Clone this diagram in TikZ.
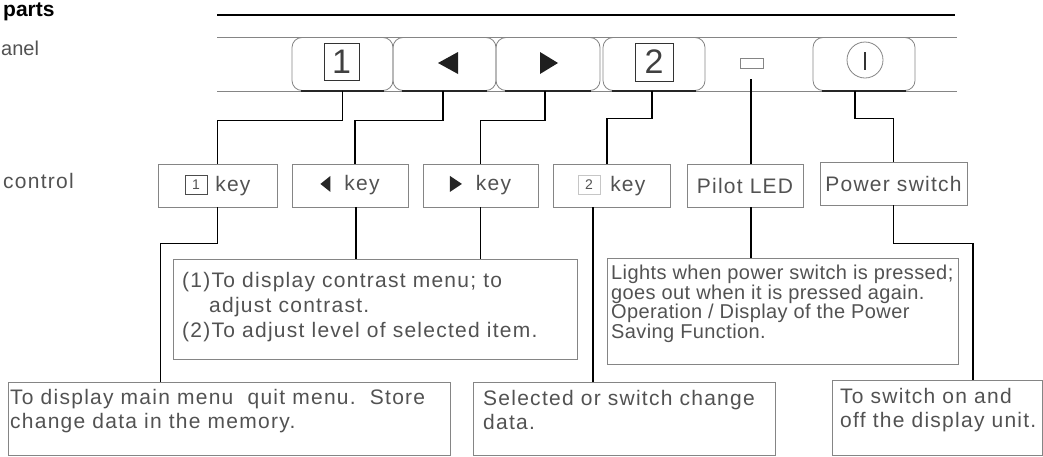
\documentclass[tikz,border=0pt]{standalone}
\usepackage{fontspec}
\setmainfont{Liberation Sans}
\newfontfamily\lblfont{Liberation Sans}[LetterSpace=6]
\newfontfamily\ledfont{Liberation Sans}[LetterSpace=2]
\usetikzlibrary{calc}
\definecolor{ink}{gray}{0.32}
\definecolor{edge}{gray}{0.52}
\newcommand\KeySmallBox[2]{\tikz[baseline=-7pt]\node[draw=#2,line width=0.7pt,minimum width=22pt,minimum height=19pt,inner sep=0pt,font=\fontsize{14}{14}\selectfont]{#1};}
\newcommand\KeyLeftTri{\tikz[baseline=-7pt]\fill[black!85] (0pt,0pt) -- (10pt,8pt) -- (10pt,-8pt) -- cycle;}
\newcommand\KeyRightTri{\tikz[baseline=-7pt]\fill[black!85] (0pt,8pt) -- (0pt,-8pt) -- (12pt,0pt) -- cycle;}
\begin{document}
\begin{tikzpicture}[x=1pt,y=-1pt,
  conn/.style={draw=black,line width=1.8pt},
  btn/.style={draw=edge,line width=0.8pt,rounded corners=10pt,minimum height=53pt,inner sep=0pt},
  btnbase/.style={line width=1.4pt,draw=black!85},
  digitbox/.style={draw=black!80,line width=0.8pt,inner sep=0pt,text=black!75,font=\fontsize{34}{34}\selectfont},
  keybox/.style={draw=edge,line width=0.8pt,minimum height=43pt,inner sep=0pt,text=ink,font=\lblfont\fontsize{21}{25}\selectfont},
  descbox/.style={draw=edge,line width=0.8pt,anchor=north west,inner sep=0pt},
  desctext/.style={anchor=north west,inner sep=0pt,align=left,text=ink,font=\lblfont\fontsize{21}{24}\selectfont},
  sidetext/.style={anchor=base west,inner sep=0pt,text=ink,font=\lblfont\fontsize{21}{21}\selectfont}]
\useasboundingbox (0,0) rectangle (1043,456);

% side labels
\node[anchor=base west,inner sep=0pt,font=\bfseries\fontsize{21}{21}\selectfont] (ttl) at (3,16) {parts};
\node[anchor=base west,inner sep=0pt,text=ink,font=\fontsize{20}{20}\selectfont] (pnl) at (1,55) {anel};
\node[sidetext] (ctl) at (3,188) {control};

% panel lines
\draw[line width=2.2pt] (217,15) -- (955,15);
\draw[edge,line width=0.9pt] (217,37.5) -- (957,37.5);
\draw[edge,line width=0.9pt] (217,91) -- (957,91);

% buttons
\node[btn,minimum width=101pt] (b1) at (342.5,64) {};
\node[btn,minimum width=103pt] (b2) at (444.5,64) {};
\node[btn,minimum width=104pt] (b3) at (548,64) {};
\node[btn,minimum width=102pt] (b4) at (654,64) {};
\node[btn,minimum width=102pt] (b6) at (864,64) {};
\foreach \b in {b1,b2,b3,b4,b6}{
  \draw[btnbase] ([xshift=9pt]\b.south west) -- ([xshift=-9pt]\b.south east);
}
\node[digitbox,minimum width=35pt,minimum height=37pt] (d1k) at (341.5,61.5) {1};
\node[digitbox,minimum width=38pt,minimum height=38pt] (d2k) at (654,62) {2};
\fill[black!88] (438,63) -- (458,52) -- (458,74) -- cycle;
\fill[black!88] (540,52) -- (540,74) -- (558,63) -- cycle;
\node[draw=edge,line width=0.8pt,minimum width=23pt,minimum height=10pt,inner sep=0pt] (led) at (751.5,63.5) {};
\node[draw=edge,line width=0.8pt,circle,minimum size=36pt,inner sep=0pt] (pwr) at (865,60) {};
\draw[black!80,line width=1.3pt] (865,52) -- (865,70);

% key boxes
\node[keybox,minimum width=119pt] (k1) at (217.5,185.5) {\KeySmallBox{1}{black!70}\hspace{8pt}key};
\node[keybox,minimum width=116pt] (k2) at (350,185.5) {\KeyLeftTri\hspace{14pt}key};
\node[keybox,minimum width=115pt] (k3) at (480.5,185.5) {\KeyRightTri\hspace{14pt}key};
\node[keybox,minimum width=117pt] (k4) at (611.5,185.5) {\KeySmallBox{2}{gray!45}\hspace{10pt}key};
\node[keybox,minimum width=116pt] (k5) at (745,185.5) {Pilot LED};
\node[keybox,minimum width=147pt] (k6) at (893.5,183.5) {Power switch};

% description boxes
\node[descbox,minimum width=404pt,minimum height=100pt] (cbox) at (173,259) {};
\node[desctext,font=\lblfont\fontsize{21}{25}\selectfont] (ctext) at (182,272) {(1)To display contrast menu; to\\\hspace*{27pt}adjust contrast.\\(2)To adjust level of selected item.};
\node[descbox,minimum width=351pt,minimum height=106pt] (lbox) at (607,258) {};
\node[desctext,font=\ledfont\fontsize{20}{17}\selectfont] (ltext) at (611,265) {Lights when power switch is pressed;\\goes out when it is pressed again.\\Operation / Display of the Power\\Saving Function.};
\node[descbox,minimum width=442pt,minimum height=73pt] (mbox) at (8,382) {};
\node[desctext] (mtext) at (10,389) {To display main menu\ \ quit menu.\ \ Store\\change data in the memory.};
\node[descbox,minimum width=302pt,minimum height=73pt] (sbox) at (473,382) {};
\node[desctext] (stext) at (483,390) {Selected or switch change\\data.};
\node[descbox,minimum width=210pt,minimum height=75pt] (wbox) at (832,380) {};
\node[desctext] (wtext) at (840,388) {To switch on and\\off the display unit.};

% connectors: buttons to key boxes
\coordinate (ledtop) at (751,79);
\draw[conn] (b1.south) -- ++(0,29.5) -| (k1.north);
\draw[conn] ([xshift=-1.5pt]b2.south) -- ++(0,29.5) -| ([xshift=5pt]k2.north);
\draw[conn] ([xshift=-3pt]b3.south) -- ++(0,29.5) -| (k3.north);
\draw[conn] ([xshift=-2pt]b4.south) -- ++(0,27.5) -| ([xshift=-4.5pt]k4.north);
\draw[conn] (ledtop) -- (ledtop |- k5.north);
\draw[conn] ([xshift=-9pt]b6.south) -- ++(0,27.5) -| (k6.north);

% connectors: key boxes to descriptions
\coordinate (k2s) at ([xshift=6pt]k2.south);
\coordinate (k4s) at ([xshift=-18.5pt]k4.south);
\coordinate (k5s) at ([xshift=6pt]k5.south);
\draw[conn] (k1.south) -- ++(0,36) -| ([xshift=-69pt]mbox.north);
\draw[conn] (k2s) -- (k2s |- cbox.north);
\draw[conn] (k3.south) -- (k3.south |- cbox.north);
\draw[conn] (k4s) -- (k4s |- sbox.north);
\draw[conn] (k5s) -- (k5s |- lbox.north);
\draw[conn] (k6.south) -- ++(0,38) -| ([xshift=35.5pt]wbox.north);
\end{tikzpicture}
\end{document}
